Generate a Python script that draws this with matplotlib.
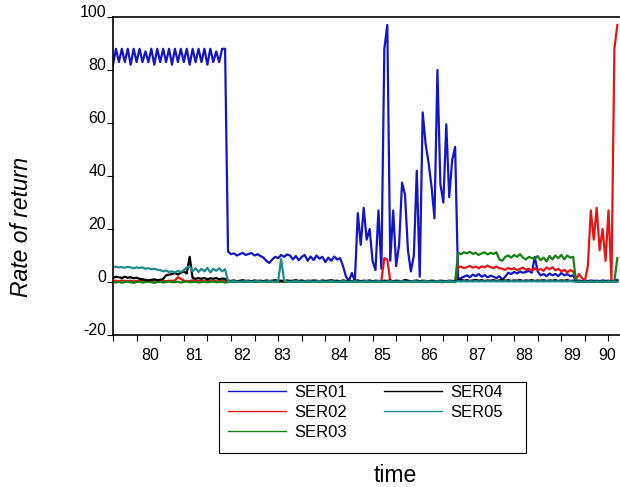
import numpy as np
import matplotlib
matplotlib.use('Agg')
import matplotlib.pyplot as plt
from matplotlib.patches import Rectangle

plt.rcParams['font.family'] = ['Liberation Sans', 'DejaVu Sans']
plt.rcParams['axes.unicode_minus'] = False

ser01 = [
    82, 88, 83, 88, 83, 88, 82, 88, 83, 88,
    83, 87, 83, 88, 82, 88, 83, 88, 83, 88,
    82, 88, 83, 88, 83, 88, 82, 88, 83, 88,
    83, 88, 82, 88, 83, 87, 83, 88, 88, 11.5,
    10.5, 10.8, 10, 10.5, 11, 10.2, 10.6, 10.9, 10, 10.5,
    9.8, 9.2, 8, 7.2, 8.5, 9.5, 9, 10.2, 9.5, 10.4,
    10, 8.5, 9.8, 8.2, 9.5, 10.2, 8, 9.6, 8.3, 10,
    8.8, 9.5, 7.5, 9.2, 8, 9.6, 8.5, 9, 6, 2,
    0.5, 3.4, 0.3, 26, 14, 28, 16, 20, 8, 4.5,
    27, 5, 88, 97, 8, 27, 6, 14, 37.5, 33,
    12, 4, 10, 42, 2, 64, 52, 45, 36, 24,
    80, 37, 30, 59.5, 32, 46, 51, 1, 1.5, 2,
    2.5, 1.8, 2.8, 2.2, 3, 2, 2.6, 1.8, 2.4, 2,
    1.5, 2.2, 1, 2, 3.5, 3, 3.8, 3.2, 4, 3.5,
    3.8, 4.2, 3.5, 9.5, 4, 2.5, 3, 2.2, 3.2, 2.5,
    3, 2.2, 3.4, 2.5, 3, 2.2, 2.5, 0.4, 0.6, 0.3,
    0.5, 0.3, 0.6, 0.4, 0.5, 0.3, 0.6, 0.4, 0.5, 0.3,
    0.5, 0.8,
]
ser02 = [
    0.3, 0.5, 0.2, 0.6, 0.4, 0.3, 0.5, 0.2, 0.4, 0.3,
    0.5, 0.3, 0.2, 0.4, 0.6, 0.3, 0.2, 0.4, 0.3, 0.5,
    0.4, 0.6, 1.8, 1.2, 0.5, 0.3, 0.4, 0.6, 0.3, 0.5,
    0.4, 0.2, 0.5, 0.3, 0.4, 0.3, 0.2, 0.4, 0.3, 0.1,
    0.2, 0.1, 0.3, 0.2, 0.1, 0.2, 0.3, 0.1, 0.2, 0.1,
    0.2, 0.3, 0.1, 0.2, 0.1, 0.3, 0.2, 0.1, 0.2, 0.3,
    0.1, 0.2, 0.3, 0.1, 0.2, 0.1, 0.2, 0.3, 0.1, 0.2,
    0.3, 0.1, 0.2, 0.1, 0.2, 0.3, 0.1, 0.2, 0.1, 0.2,
    0.1, 0.2, 0.3, 0.2, 0.1, 0.2, 0.3, 0.1, 0.2, 0.1,
    0.2, 0.5, 9, 8.5, 0.4, 0.2, 0.1, 0.2, 0.3, 0.1,
    0.2, 0.1, 0.3, 0.2, 0.1, 0.2, 0.3, 0.1, 0.2, 0.1,
    0.2, 0.3, 0.1, 0.2, 0.1, 0.3, 0.2, 5.6, 5.8, 5.2,
    5.6, 6, 5.4, 5.8, 5.2, 5.9, 5.5, 6.2, 5.6, 5.3,
    5.8, 5.2, 5, 4.6, 5.3, 4.8, 5.2, 4.5, 5, 5.4,
    4.6, 5, 4.2, 5.2, 4.5, 4.9, 4.2, 5.5, 4.8, 5.6,
    4.4, 5, 4, 4.6, 3.6, 4.5, 4, 1, 3, 1.5,
    0.5, 6, 27, 16, 28, 12, 20, 8, 27, 0.5,
    88, 97,
]
ser03 = [
    0, -0.2, 0.1, -0.3, 0, 0.2, -0.1, -0.3, 0, 0.1,
    -0.2, 0, 0.2, -0.1, -0.3, 0, 0.1, -0.2, 0, 0.2,
    -0.1, 0, 0.1, -0.2, 0, 0.2, -0.1, 0, 0.1, -0.2,
    0, 0.1, -0.1, 0, 0.2, -0.1, 0, 0.1, -0.2, 0,
    0.1, 0, 0.2, 0.1, 0, 0.1, 0.2, 0, 0.1, 0,
    0.2, 0.1, 0, 0.1, 0.2, 0, 0.1, 0.3, 0.1, 0,
    0.1, 0.2, 0, 0.1, 0, 0.2, 0.1, 0, 0.1, 0.2,
    0, 0.1, 0.2, 0, 0.1, 0, 0.2, 0.1, 0, 0.1,
    0.2, 0, 0.1, 0, 0.2, 0.1, 0, 0.1, 0.2, 0,
    0.1, 0, 0.2, 0.1, 0, 0.1, 0.2, 0, 0.1, 0,
    0.2, 0.1, 0, 0.1, 0.2, 0, 0.1, 0, 0.2, 0.1,
    0.1, 0, -0.1, 0.2, 0, 0.1, -0.1, 11, 10.5, 11.2,
    10.8, 11.4, 10.6, 11, 10.2, 10.8, 11.2, 10.4, 11, 10.6,
    11.2, 8.5, 8, 9.5, 10, 9.2, 10.2, 9.5, 10.5, 9.2,
    8.5, 9.5, 9, 8.8, 9.8, 8.2, 9.2, 7.8, 9.8, 8.5,
    10, 9, 10.2, 8.6, 10, 9.2, 9.5, 0.3, 0.1, 0.2,
    0.1, 0.3, 0.2, 0.1, 0.3, 0.2, 0.1, 0.2, 0.3, 0.2,
    0.5, 9,
]
ser04 = [
    1.5, 2, 1.8, 1.5, 2, 1.6, 1.8, 1.4, 1.6, 1.2,
    1, 0.8, 0.6, 0.8, 1, 0.7, 0.8, 1.2, 2.5, 2.8,
    3, 3.4, 2.8, 3.5, 4, 3.2, 9.5, 1.5, 1.2, 1.5,
    1.2, 1.5, 1, 1.4, 1.2, 1.5, 1, 1.3, 1.2, 0.5,
    0.4, 0.6, 0.3, 0.5, 0.7, 0.4, 0.5, 0.3, 0.6, 0.4,
    0.5, 0.3, 0.6, 0.4, 0.5, 0.7, 0.4, 0.5, 0.3, 0.6,
    0.4, 0.5, 0.7, 0.4, 0.6, 0.3, 0.5, 0.4, 0.6, 0.5,
    0.3, 0.6, 0.4, 0.5, 0.7, 0.4, 0.5, 0.3, 0.6, 0.4,
    0.5, 0.3, 0.4, 0.6, 0.3, 0.5, 0.4, 0.6, 0.3, 0.5,
    0.4, 0.3, 0.5, 0.4, 0.6, 0.3, 0.5, 0.4, 0.3, 0.8,
    0.5, 0.3, 0.4, 0.6, 0.3, 0.5, 0.4, 0.3, 0.5, 0.4,
    0.3, 0.5, 0.4, 0.3, 0.5, 0.4, 0.3, 0.6, 0.8, 0.5,
    0.7, 0.4, 0.6, 0.8, 0.5, 0.7, 0.4, 0.6, 0.5, 0.7,
    0.4, 0.6, 0.8, 0.5, 0.7, 0.4, 0.6, 0.5, 0.7, 0.4,
    0.6, 0.5, 0.7, 0.4, 0.6, 0.5, 0.7, 0.4, 0.6, 0.5,
    0.7, 0.4, 0.6, 0.5, 0.7, 0.4, 0.5, 0.3, 0.2, 0.3,
    0.2, 0.3, 0.2, 0.3, 0.2, 0.3, 0.2, 0.3, 0.2, 0.3,
    0.2, 0.3,
]
ser05 = [
    5.5, 5.8, 5.5, 5.6, 5.4, 5.7, 5.5, 5.2, 5.5, 5.3,
    5.5, 5, 5.2, 4.8, 5, 4.6, 4.5, 4, 4.3, 3.8,
    4, 3.6, 4.2, 3.8, 4.5, 5.5, 5.8, 4, 5.2, 3.8,
    5, 4, 5.3, 3.6, 5, 4.2, 5.2, 4, 4.8, 0.3,
    0.2, 0.3, 0.2, 0.1, 0.2, 0.3, 0.2, 0.1, 0.2, 0.3,
    0.2, 0.1, 0.2, 0.3, 0.2, 0.1, 0.3, 8.7, 0.5, 0.2,
    0.1, 0.2, 0.3, 0.2, 0.1, 0.2, 0.3, 0.2, 0.1, 0.2,
    0.3, 0.2, 0.1, 0.2, 0.3, 0.2, 0.1, 0.2, 0.3, 0.2,
    0.1, 0.2, 0.3, 0.2, 0.1, 0.2, 0.3, 0.2, 0.1, 0.2,
    0.3, 0.2, 0.1, 0.2, 0.3, 0.2, 0.1, 0.2, 0.3, 0.2,
    0.1, 0.2, 0.3, 0.2, 0.1, 0.2, 0.3, 0.2, 0.1, 0.2,
    0.3, 0.2, 0.1, 0.2, 0.3, 0.2, 0.1, 0.3, 0.2, 0.3,
    0.2, 0.3, 0.2, 0.3, 0.2, 0.3, 0.2, 0.3, 0.2, 0.3,
    0.2, 0.3, 0.2, 0.3, 0.2, 0.3, 0.2, 0.3, 0.2, 0.3,
    0.2, 0.3, 0.2, 0.3, 0.2, 0.3, 0.2, 0.3, 0.2, 0.3,
    0.2, 0.3, 0.2, 0.3, 0.2, 0.3, 0.2, 0.1, 0.2, 0.1,
    0.2, 0.1, 0.2, 0.1, 0.2, 0.1, 0.2, 0.1, 0.2, 0.1,
    0.2, 0.1,
]

series_names = ['SER01', 'SER02', 'SER03', 'SER04', 'SER05']
series_colors = ['#1414c8', '#e61414', '#148214', '#000000', '#1e8c8c']

# year labels sit at these observation numbers, grid ticks every 8 obs
year_labels = ['80', '81', '82', '83', '84', '85', '86', '87', '88', '89', '90']
year_pos = [12.5, 27.5, 43.7, 57.3, 76.6, 91.2, 107.1, 123.4, 139.3, 155.6, 167.5]
tick_step = 8

fig = plt.figure(figsize=(6.2, 4.87), dpi=100)
ax = fig.add_axes([113 / 620, 1 - 335 / 487, 507 / 620, 318 / 487])

handles = []
for data, name, col in zip([ser01, ser02, ser03, ser04, ser05], series_names, series_colors):
    x = np.arange(len(data))
    h, = ax.plot(x, data, color=col, lw=1.6, label=name)
    handles.append(h)

ax.set_xlim(0, 171.9)
ax.set_ylim(-20, 100)

ax.set_yticks(np.arange(-20, 101, 20))
ax.tick_params(axis='y', length=4.5, width=0.8, pad=0.5, labelsize=11.5)
for lab in ax.get_yticklabels():
    lab.set_verticalalignment('baseline')

ax.set_xticks(year_pos)
ax.set_xticklabels(year_labels)
ax.set_xticks(np.arange(0, 172, tick_step), minor=True)
ax.tick_params(axis='x', which='major', length=0, pad=9, labelsize=11.5)
ax.tick_params(axis='x', which='minor', length=4.5, width=0.8)

for s in ['left', 'bottom', 'top']:
    ax.spines[s].set_linewidth(1.2)
ax.spines['right'].set_visible(False)

fig.text(22 / 620, 1 - 227 / 487, 'Rate of return', rotation=90, style='italic',
         fontsize=16.5, ha='center', va='center')
fig.text(395 / 620, 1 - 476 / 487, 'time', fontsize=16.5, ha='center', va='center')

# legend box drawn separately so its size matches
fig.patches.append(Rectangle((219 / 620, 1 - 453 / 487), 307 / 620, 71 / 487,
                             transform=fig.transFigure, fill=False,
                             edgecolor='black', lw=0.8))
leg = fig.legend(handles, series_names, ncol=2, loc='upper left',
                 bbox_to_anchor=(228 / 620, 1 - 385 / 487), frameon=False,
                 fontsize=12, handlelength=3.5, handletextpad=0.5,
                 columnspacing=2.2, labelspacing=0.3, borderpad=0, borderaxespad=0)
for line in leg.get_lines():
    line.set_linewidth(1.0)

fig.savefig('out.png', dpi=100)
